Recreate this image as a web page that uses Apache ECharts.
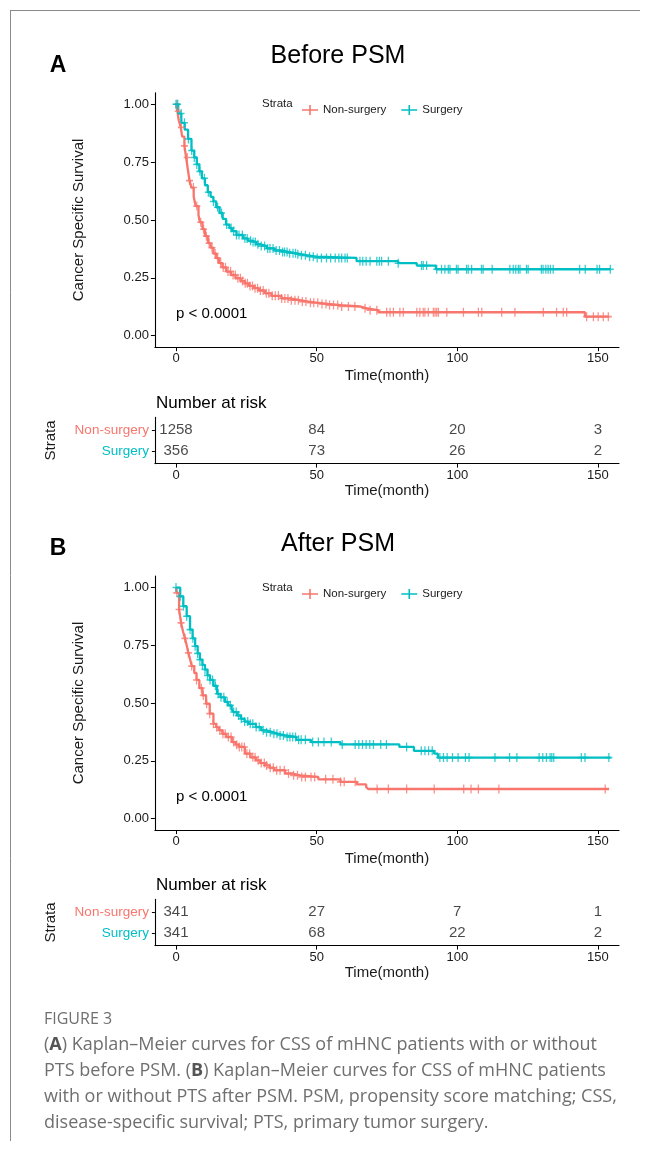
<!DOCTYPE html>
<html>
<head>
<meta charset="utf-8">
<script src="https://cdn.jsdelivr.net/npm/echarts@6/dist/echarts.min.js"></script>
<style>
  html, body { margin: 0; padding: 0; background: #fff; }
  #chart { width: 646px; height: 1151px; }
</style>
</head>
<body>
<div id="chart"></div>
<script>
const STRATA = ['Non-surgery', 'Surgery']
const TIME_TICKS = [0, 50, 100, 150]
const SURV_TICKS = [0, 0.25, 0.5, 0.75, 1]

// Kaplan-Meier steps [month, survival]
const BEFORE_NON_KM = [
  [0, 1], [0.5, 0.97], [1, 0.93], [1.7, 0.9], [2.2, 0.86], [3, 0.82], [3.6, 0.77], [4.2, 0.72],
  [4.8, 0.67], [5.5, 0.64], [6.3, 0.6], [7, 0.56], [8, 0.52], [8.5, 0.49], [9.4, 0.46], [10.3, 0.43],
  [11.4, 0.4], [12.3, 0.38], [13.3, 0.355], [14.3, 0.335], [15.3, 0.313], [16.5, 0.295], [17.9, 0.277],
  [19.5, 0.262], [21.2, 0.248], [23, 0.236], [24.5, 0.226], [26, 0.215], [27.7, 0.205], [29.5, 0.195],
  [31.6, 0.183], [34, 0.172], [37.5, 0.161], [40.5, 0.153], [44, 0.147], [47, 0.142], [50.6, 0.137],
  [54, 0.132], [58.5, 0.126], [65.4, 0.118], [67.8, 0.11], [71.9, 0.101], [145.4, 0.082], [154, 0.082],
]
const BEFORE_SURG_KM = [
  [0, 1], [0.8, 0.96], [1.9, 0.92], [3.1, 0.89], [4.3, 0.85], [5.5, 0.8], [6.5, 0.77], [7.4, 0.74],
  [8.3, 0.71], [9.2, 0.68], [10.3, 0.65], [11.3, 0.62], [12.3, 0.6], [13.3, 0.58], [14.3, 0.555],
  [15.5, 0.53], [16.6, 0.505], [17.8, 0.48], [19, 0.465], [19.9, 0.452], [21.5, 0.435], [23.8, 0.42],
  [25.5, 0.41], [27, 0.405], [28.5, 0.395], [30, 0.387], [32.3, 0.377], [35, 0.368], [37.5, 0.362],
  [40, 0.356], [42.8, 0.352], [44.5, 0.347], [46.7, 0.341], [50, 0.336], [64.2, 0.322], [79, 0.313],
  [85.6, 0.303], [92.4, 0.287], [154.5, 0.287],
]
const AFTER_NON_KM = [
  [0, 1], [0.3, 0.977], [1.1, 0.905], [1.8, 0.847], [2.5, 0.81], [3.2, 0.78], [3.8, 0.75], [4.4, 0.717],
  [5, 0.69], [5.6, 0.66], [6.5, 0.63], [7.3, 0.6], [8.3, 0.565], [9.4, 0.533], [10.7, 0.497], [12, 0.454],
  [13.3, 0.41], [14.3, 0.395], [15.3, 0.382], [16.5, 0.367], [17.9, 0.353], [19.9, 0.331], [21.2, 0.32],
  [22.5, 0.31], [24.5, 0.281], [26.5, 0.265], [28.4, 0.252], [30, 0.24], [31.6, 0.23], [33.3, 0.22],
  [34.9, 0.209], [38.8, 0.195], [41.5, 0.187], [44, 0.18], [50.6, 0.17], [58.5, 0.159], [64.3, 0.148],
  [67.6, 0.137], [68.3, 0.128], [154, 0.128],
]
const AFTER_SURG_KM = [
  [0, 1], [1.5, 0.962], [2.6, 0.919], [3.8, 0.876], [5, 0.818], [5.9, 0.78], [6.8, 0.746], [7.7, 0.715],
  [8.5, 0.688], [9.4, 0.665], [10.3, 0.645], [11.2, 0.62], [12.1, 0.6], [13.3, 0.575], [14.6, 0.54],
  [15.8, 0.525], [17.4, 0.505], [18.5, 0.49], [19.8, 0.472], [20.5, 0.461], [21.8, 0.446], [23.1, 0.432],
  [24.4, 0.42], [25.8, 0.41], [28.4, 0.396], [30.3, 0.382], [32.2, 0.374], [34.3, 0.367], [36.5, 0.36],
  [38.8, 0.353], [42.8, 0.341], [48, 0.331], [58.5, 0.321], [79.4, 0.31], [84.6, 0.293], [91.8, 0.281],
  [93.1, 0.264], [154.5, 0.264],
]

// censoring times (month)
const BEFORE_NON_CENSOR = [
  0.3, 0.8, 1.9, 3.0, 4.0, 4.8, 6.2, 7.4, 8.8, 9.8, 10.8, 11.8, 12.8, 13.9, 14.8, 15.9, 16.8, 17.6,
  18.5, 19.4, 20.3, 21.1, 22.0, 22.9, 23.7, 24.6, 25.4, 26.3, 27.2, 28.1, 29.0, 30.0, 31.0, 32.1, 33.0,
  34.2, 35.3, 36.4, 37.6, 38.7, 39.8, 41.0, 42.3, 43.5, 44.9, 46.2, 47.8, 49.0, 50.4, 51.9, 53.3, 54.6,
  56.0, 57.5, 58.9, 61.3, 63.6, 67.2, 69.0, 71.4, 74.9, 76.1, 77.3, 79.6, 80.8, 85.6, 86.7, 87.9, 88.5,
  89.7, 91.5, 92.1, 92.7, 93.3, 96.3, 102.2, 107.5, 108.7, 115.8, 120.5, 130.6, 135.3, 137.7, 138.9,
  146.0, 148.4, 150.1, 151.9, 153.7,
]
const BEFORE_SURG_CENSOR = [
  0, 0.6, 1.8, 3.0, 4.4, 5.6, 6.5, 7.4, 8.5, 10.1, 11.5, 13.3, 14.8, 16.2, 18.0, 19.6, 20.5, 21.5, 22.4,
  23.6, 24.5, 25.3, 26.5, 27.4, 28.2, 29.1, 30.3, 31.5, 32.6, 33.4, 34.5, 35.6, 36.8, 37.9, 38.6, 39.5,
  40.4, 41.6, 42.5, 43.3, 44.6, 46.0, 47.5, 48.8, 50.2, 51.7, 53.5, 55.0, 56.6, 57.9, 58.9, 60.1, 60.9,
  65.4, 66.4, 67.6, 69.0, 71.4, 72.3, 73.1, 75.5, 79.0, 87.3, 87.9, 89.1, 92.7, 94.4, 95.6, 96.8, 97.4,
  99.7, 100.3, 103.3, 103.9, 105.1, 108.6, 109.2, 112.4, 118.7, 119.9, 120.8, 121.7, 122.3, 124.6,
  125.2, 129.9, 130.5, 131.5, 132.3, 133.1, 134.1, 143.5, 145.5, 149.7, 150.6, 154.4,
]
const AFTER_NON_CENSOR = [
  0.3, 1.1, 1.8, 3.2, 4.4, 5.6, 7.3, 9.0, 9.7, 10.9, 12.0, 13.3, 14.5, 15.6, 16.7, 17.5, 18.6, 19.6,
  20.5, 21.6, 22.5, 23.4, 24.3, 25.2, 26.2, 27.3, 28.1, 29.2, 30.3, 31.4, 32.2, 33.5, 34.6, 35.8, 37.0,
  38.5, 40.0, 41.8, 43.2, 44.7, 46.0, 48.0, 49.3, 53.2, 55.8, 58.5, 59.8, 63.7, 71.5, 75.5, 82.0, 91.8,
  102.3, 104.9, 107.5, 114.8, 152.6,
]
const AFTER_SURG_CENSOR = [
  0, 1.5, 2.6, 3.8, 5.0, 6.0, 6.8, 7.7, 8.5, 9.4, 10.3, 11.2, 12.1, 13.0, 14.0, 15.0, 16.0, 17.0, 18.2,
  19.3, 20.5, 21.4, 22.3, 23.2, 24.4, 25.5, 26.4, 27.3, 28.5, 29.6, 31.0, 32.2, 33.5, 34.8, 35.9, 37.0,
  38.2, 39.5, 40.5, 41.5, 42.5, 43.6, 44.5, 46.0, 48.6, 50.6, 52.6, 55.2, 59.1, 63.7, 65.0, 66.3, 67.6,
  68.9, 70.2, 72.8, 74.8, 82.0, 87.2, 88.5, 89.8, 91.1, 93.8, 95.1, 96.4, 98.3, 100.3, 102.9, 104.2,
  113.4, 118.6, 121.2, 129.1, 130.4, 131.7, 133.0, 133.6, 134.3, 144.1, 145.4, 153.9,
]

// number at risk at TIME_TICKS
const BEFORE_NON_RISK = [1258, 84, 20, 3]
const BEFORE_SURG_RISK = [356, 73, 26, 2]
const AFTER_NON_RISK = [341, 27, 7, 1]
const AFTER_SURG_RISK = [341, 68, 22, 2]

const COLORS = ['#F8766D', '#00BFC4']
const FONT = 'Liberation Sans, Arial, sans-serif'
const INK = '#1a1a1a'
const PLUS = 'path://M-1.8,-10H1.8V-1.8H10V1.8H1.8V10H-1.8V1.8H-10V-1.8H-1.8Z'
const LEGEND_ICON = 'path://M0,4.2H16V5.8H0Z M7.2,0H8.8V10H7.2Z'

const PLOT_LEFT = 154.9
const PLOT_WIDTH = 464.1

const panels = [
  {
    title: 'Before PSM', tag: 'A', titleY: 56, tagY: 66, legendY: 99, pY: 314,
    km: { top: 92.7, height: 254.5 }, risk: { top: 417.4, height: 46.2 }, riskTitleY: 403,
    curves: [BEFORE_NON_KM, BEFORE_SURG_KM], censor: [BEFORE_NON_CENSOR, BEFORE_SURG_CENSOR],
    atRisk: [BEFORE_NON_RISK, BEFORE_SURG_RISK],
  },
  {
    title: 'After PSM', tag: 'B', titleY: 544, tagY: 549, legendY: 583, pY: 797,
    km: { top: 576, height: 254.1 }, risk: { top: 899.4, height: 46.2 }, riskTitleY: 885,
    curves: [AFTER_NON_KM, AFTER_SURG_KM], censor: [AFTER_NON_CENSOR, AFTER_SURG_CENSOR],
    atRisk: [AFTER_NON_RISK, AFTER_SURG_RISK],
  },
]

function survivalAt(curve, t) {
  let s = curve[0][1]
  for (const [time, value] of curve) {
    if (time <= t) s = value
    else break
  }
  return s
}

const axisLine = { onZero: false, lineStyle: { color: '#000', width: 1.1 } }

function timeAxis(gridIndex, nameGap) {
  return {
    type: 'value', gridIndex, min: -7.5, max: 157.5,
    name: 'Time(month)', nameLocation: 'middle', nameGap,
    nameTextStyle: { fontFamily: FONT, fontSize: 15, color: INK },
    axisLine,
    axisTick: { customValues: TIME_TICKS, length: 4, lineStyle: { color: '#000' } },
    axisLabel: { customValues: TIME_TICKS, margin: 5, fontFamily: FONT, fontSize: 13, color: INK },
    splitLine: { show: false },
  }
}

const grids = []
const xAxes = []
const yAxes = []
const series = []
const legends = []
const graphics = []

panels.forEach((panel, p) => {
  const kmGrid = p * 2
  const riskGrid = p * 2 + 1

  grids.push({ left: PLOT_LEFT, width: PLOT_WIDTH, top: panel.km.top, height: panel.km.height, containLabel: false })
  grids.push({ left: PLOT_LEFT, width: PLOT_WIDTH, top: panel.risk.top, height: panel.risk.height, containLabel: false })

  xAxes.push(timeAxis(kmGrid, 21))
  xAxes.push(timeAxis(riskGrid, 20))

  yAxes.push({
    type: 'value', gridIndex: kmGrid, min: -0.05, max: 1.05,
    name: 'Cancer Specific Survival', nameLocation: 'middle', nameGap: 69,
    nameTextStyle: { fontFamily: FONT, fontSize: 15, color: INK },
    axisLine,
    axisTick: { customValues: SURV_TICKS, length: 4, lineStyle: { color: '#000' } },
    axisLabel: {
      customValues: SURV_TICKS, margin: 6, fontFamily: FONT, fontSize: 13, color: INK,
      formatter: (v) => v.toFixed(2),
    },
    splitLine: { show: false },
  })
  yAxes.push({
    type: 'value', gridIndex: riskGrid, min: 0.4, max: 2.6,
    name: 'Strata', nameLocation: 'middle', nameGap: 97,
    nameTextStyle: { fontFamily: FONT, fontSize: 15, color: INK },
    axisLine,
    axisTick: { customValues: [1, 2], length: 3, lineStyle: { color: '#000' } },
    axisLabel: {
      customValues: [1, 2], margin: 6, fontFamily: FONT, fontSize: 13,
      formatter: (v) => {
        const i = STRATA.length - v
        return `{s${i}|${STRATA[i]}}`
      },
      rich: {
        s0: { color: COLORS[0], fontFamily: FONT, fontSize: 13.5 },
        s1: { color: COLORS[1], fontFamily: FONT, fontSize: 13.5 },
      },
    },
    splitLine: { show: false },
  })

  STRATA.forEach((name, i) => {
    series.push({
      name, type: 'line', step: 'end', xAxisIndex: kmGrid, yAxisIndex: kmGrid,
      data: panel.curves[i], showSymbol: false, symbol: 'none', animation: false,
      lineStyle: { color: COLORS[i], width: 2.3 }, itemStyle: { color: COLORS[i] }, z: 2,
    })
    series.push({
      name, type: 'scatter', xAxisIndex: kmGrid, yAxisIndex: kmGrid,
      data: panel.censor[i].map((t) => [t, survivalAt(panel.curves[i], t)]),
      symbol: PLUS, symbolSize: [7, 9], animation: false,
      itemStyle: { color: COLORS[i] }, z: 3,
    })
    series.push({
      type: 'scatter', xAxisIndex: riskGrid, yAxisIndex: riskGrid, silent: true, animation: false,
      data: TIME_TICKS.map((t, k) => [t, STRATA.length - i, panel.atRisk[i][k]]),
      symbolSize: 1, itemStyle: { color: 'rgba(0,0,0,0)' },
      label: {
        show: true, position: 'inside', formatter: (d) => String(d.value[2]),
        fontFamily: FONT, fontSize: 15, color: INK,
      },
    })
  })

  legends.push({
    left: 297, top: panel.legendY, itemWidth: 16, itemHeight: 10, itemGap: 15, selectedMode: false,
    data: STRATA.map((name) => ({ name, icon: LEGEND_ICON })),
    textStyle: { fontFamily: FONT, fontSize: 11.5, color: INK },
  })

  graphics.push(
    { type: 'text', x: 338, y: panel.titleY, style: { text: panel.title, font: `25px ${FONT}`, fill: '#000', textAlign: 'center', textVerticalAlign: 'middle' } },
    { type: 'text', x: 58, y: panel.tagY, style: { text: panel.tag, font: `bold 23px ${FONT}`, fill: '#000', textAlign: 'center', textVerticalAlign: 'middle' } },
    { type: 'text', x: 262, y: panel.legendY + 5, style: { text: 'Strata', font: `11.5px ${FONT}`, fill: INK, textVerticalAlign: 'middle' } },
    { type: 'text', x: 176, y: panel.pY, style: { text: 'p < 0.0001', font: `15px ${FONT}`, fill: '#000', textVerticalAlign: 'middle' } },
    { type: 'text', x: 156, y: panel.riskTitleY, style: { text: 'Number at risk', font: `17px ${FONT}`, fill: '#000', textVerticalAlign: 'middle' } },
  )
})

const CAPTION = [
  [{ t: '(' }, { t: 'A', b: true }, { t: ') Kaplan–Meier curves for CSS of mHNC patients with or without' }],
  [{ t: 'PTS before PSM. (' }, { t: 'B', b: true }, { t: ') Kaplan–Meier curves for CSS of mHNC patients' }],
  [{ t: 'with or without PTS after PSM. PSM, propensity score matching; CSS,' }],
  [{ t: 'disease-specific survival; PTS, primary tumor surgery.' }],
]
const CAP_FONT = 'Open Sans, Lato, sans-serif'
const CAP_SIZE = 18

graphics.push(
  { type: 'line', shape: { x1: 10.5, y1: 10, x2: 10.5, y2: 1141 }, style: { stroke: '#8a8a8a', lineWidth: 1 } },
  { type: 'line', shape: { x1: 10, y1: 10.5, x2: 640, y2: 10.5 }, style: { stroke: '#8a8a8a', lineWidth: 1 } },
  { type: 'text', x: 44, y: 1019, style: { text: 'FIGURE 3', font: `16px ${CAP_FONT}`, fill: '#6f6f6f', textVerticalAlign: 'middle' } },
)
CAPTION.forEach((parts, row) => {
  graphics.push({
    type: 'text', x: 44, y: 1045 + row * 26,
    style: {
      text: parts.map((s) => (s.b ? `{b|${s.t}}` : `{n|${s.t}}`)).join(''),
      textVerticalAlign: 'middle',
      rich: {
        n: { fontFamily: CAP_FONT, fontSize: CAP_SIZE, fill: '#6f6f6f' },
        b: { fontFamily: CAP_FONT, fontSize: CAP_SIZE, fontWeight: 'bold', fill: '#555' },
      },
    },
  })
})

const chart = echarts.init(document.getElementById('chart'), null, { renderer: 'canvas' })
chart.setOption({
  animation: false,
  backgroundColor: '#fff',
  grid: grids,
  xAxis: xAxes,
  yAxis: yAxes,
  legend: legends,
  series,
  graphic: graphics,
})
</script>
</body>
</html>
